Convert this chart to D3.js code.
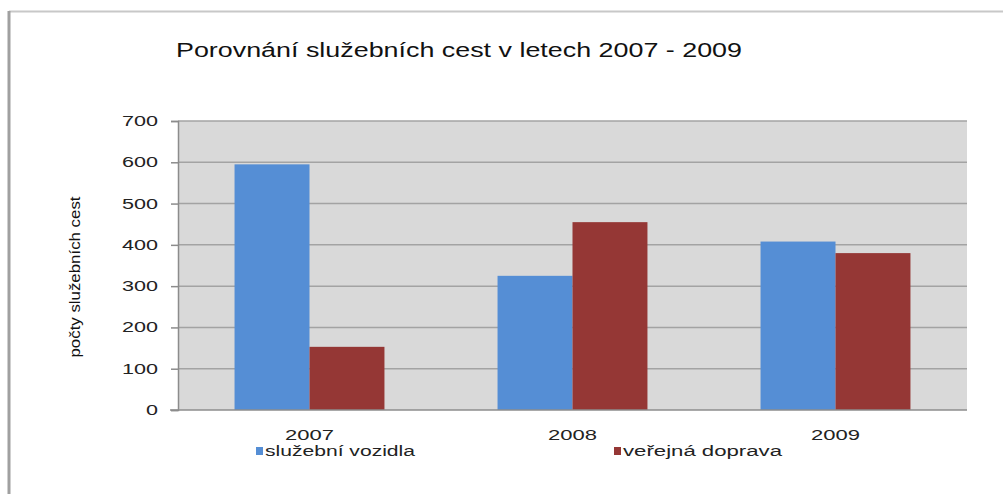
<!DOCTYPE html>
<html>
<head>
<meta charset="utf-8">
<script src="https://cdn.jsdelivr.net/npm/d3@7"></script>
<style>
  body { margin: 0; background: #fff; }
  svg { display: block; font-family: Arial, "Liberation Sans", sans-serif; }
</style>
</head>
<body>
<svg id="chart"></svg>
<script>
// data
var years = ["2007", "2008", "2009"]
var seriesNames = ["služební vozidla", "veřejná doprava"]
var vozidla = [595, 325, 408]
var doprava = [153, 455, 380]
var yTicks = [0, 100, 200, 300, 400, 500, 600, 700]

var width = 1003
var height = 494
var colors = ["#558ed5", "#953735"]

var svg = d3.select("#chart").attr("width", width).attr("height", height)

// outer frame (only top and left visible)
svg.append("line").attr("x1", 9).attr("x2", 1003).attr("y1", 11.5).attr("y2", 11.5)
  .attr("stroke", "#c8c8c8").attr("stroke-width", 2)
svg.append("line").attr("x1", 9).attr("x2", 9).attr("y1", 11).attr("y2", 494)
  .attr("stroke", "#a0a0a0").attr("stroke-width", 3)

// the picture is stretched sideways, so text gets a fixed textLength
svg.append("text")
  .attr("x", 176).attr("y", 57)
  .attr("font-size", 20)
  .attr("fill", "#111")
  .attr("textLength", 566).attr("lengthAdjust", "spacingAndGlyphs")
  .text("Porovnání služebních cest v letech 2007 - 2009")

var plot = {left: 178, right: 967, top: 121, bottom: 410}

var x = d3.scaleBand().domain(years).range([plot.left, plot.right]).paddingInner(0.43).paddingOuter(0.215)
var xs = d3.scaleBand().domain(seriesNames).range([0, x.bandwidth()])
var y = d3.scaleLinear().domain([0, 700]).range([plot.bottom, plot.top])

svg.append("rect")
  .attr("x", plot.left).attr("y", plot.top)
  .attr("width", plot.right - plot.left).attr("height", plot.bottom - plot.top)
  .attr("fill", "#d9d9d9")

// gridlines
svg.append("g")
  .selectAll("line")
  .data(yTicks.slice(1))
  .join("line")
  .attr("x1", plot.left).attr("x2", plot.right)
  .attr("y1", d => y(d)).attr("y2", d => y(d))
  .attr("stroke", "#a3a3a3").attr("stroke-width", 1.5)

var rows = years.map((yr, i) => ({year: yr, values: [vozidla[i], doprava[i]]}))

svg.append("g")
  .selectAll("g")
  .data(rows)
  .join("g")
  .attr("transform", d => `translate(${x(d.year)},0)`)
  .selectAll("rect")
  .data(d => d.values.map((v, j) => ({name: seriesNames[j], value: v, j})))
  .join("rect")
  .attr("x", d => xs(d.name))
  .attr("width", xs.bandwidth())
  .attr("y", d => y(d.value))
  .attr("height", d => y(0) - y(d.value))
  .attr("fill", d => colors[d.j])

// y axis
var yAxis = svg.append("g")
  .attr("transform", `translate(${plot.left},0)`)
  .call(d3.axisLeft(y).tickValues(yTicks).tickSize(7).tickPadding(13))
yAxis.select(".domain").attr("stroke", "#8c8c8c").attr("stroke-width", 1.5)
yAxis.selectAll(".tick line").attr("stroke", "#8c8c8c").attr("stroke-width", 1.5)
yAxis.selectAll("text")
  .attr("font-size", 14).attr("fill", "#222")
  .attr("font-family", "Arial, 'Liberation Sans', sans-serif")
  .attr("textLength", d => String(d).length * 12)
  .attr("lengthAdjust", "spacingAndGlyphs")

// x axis
svg.append("line")
  .attr("x1", plot.left - 8).attr("x2", plot.right)
  .attr("y1", plot.bottom).attr("y2", plot.bottom)
  .attr("stroke", "#8c8c8c").attr("stroke-width", 1.5)

svg.append("g")
  .selectAll("text")
  .data(years)
  .join("text")
  .attr("x", d => x(d) + x.bandwidth() / 2)
  .attr("y", 440)
  .attr("text-anchor", "middle")
  .attr("font-size", 14)
  .attr("fill", "#222")
  .attr("textLength", 49).attr("lengthAdjust", "spacingAndGlyphs")
  .text(d => d)

// y axis title
svg.append("text")
  .attr("transform", "translate(80,277) rotate(-90)")
  .attr("text-anchor", "middle")
  .attr("font-size", 15)
  .attr("fill", "#111")
  .attr("textLength", 161).attr("lengthAdjust", "spacingAndGlyphs")
  .text("počty služebních cest")

// legend
var legendX = [256, 614]
var legendLen = [150, 159]
var legend = svg.append("g")
  .selectAll("g")
  .data(seriesNames)
  .join("g")
  .attr("transform", (d, i) => `translate(${legendX[i]},456)`)
legend.append("rect").attr("x", 0).attr("y", -9).attr("width", 7).attr("height", 8)
  .attr("fill", (d, i) => colors[i])
legend.append("text").attr("x", 9).attr("y", 0)
  .attr("font-size", 14).attr("fill", "#222")
  .attr("textLength", (d, i) => legendLen[i]).attr("lengthAdjust", "spacingAndGlyphs")
  .text(d => d)
</script>
</body>
</html>
